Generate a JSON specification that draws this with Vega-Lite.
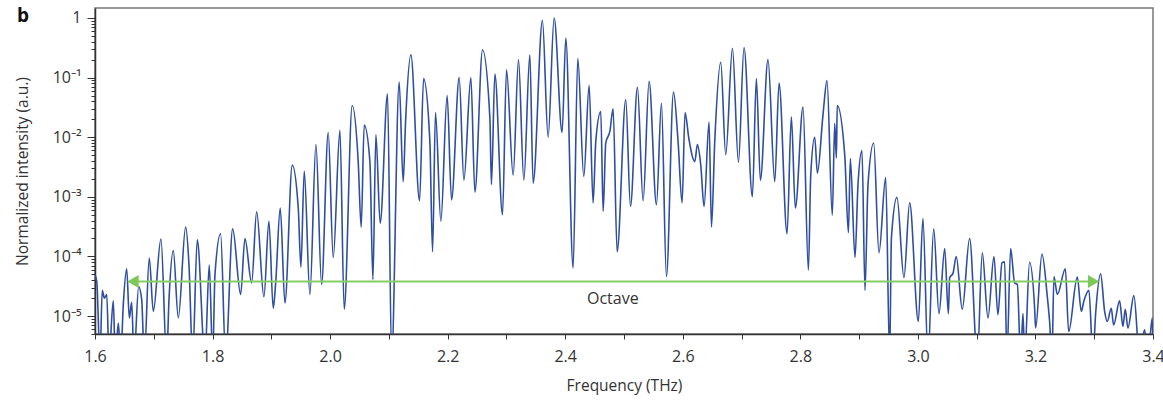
{
  "$schema": "https://vega.github.io/schema/vega-lite/v6.json",
  "width": 1058,
  "height": 326,
  "autosize": {"type": "none"},
  "padding": {"left": 95, "top": 8, "right": 10, "bottom": 66},
  "background": "white",
  "title": {"text": "b", "anchor": "start", "frame": "group", "orient": "top", "offset": 0, "dx": -78, "dy": 33, "baseline": "alphabetic", "fontSize": 19, "fontWeight": "bold", "font": "Open Sans", "color": "#111"},
  "config": {
    "font": "Open Sans",
    "view": {"stroke": "#777", "strokeWidth": 1.5},
    "axis": {"grid": false, "domainColor": "#333", "tickColor": "#333", "labelColor": "#333", "titleColor": "#333", "labelFont": "Open Sans", "titleFont": "Open Sans", "labelFontSize": 16, "titleFontSize": 15.5, "titleFontWeight": "normal", "domainWidth": 1.5}
  },
  "datasets": {
    "spectrum": [
      {"f":1.600,"I":4.9e-5},{"f":1.603,"I":3.8e-5},{"f":1.6085,"I":2e-6},{"f":1.6124,"I":2.7e-5},{"f":1.6158,"I":2.0e-5},{"f":1.620,"I":2.3e-5},{"f":1.6238,"I":2e-6},{"f":1.6311,"I":1.8e-5},{"f":1.6345,"I":2e-6},{"f":1.6397,"I":7.6e-6},{"f":1.6437,"I":2e-6},{"f":1.6482,"I":1.6e-5},{"f":1.6539,"I":6.2e-5},{"f":1.6584,"I":9.3e-6},{"f":1.6624,"I":1.7e-5},{"f":1.6663,"I":2e-6},{"f":1.6743,"I":3.1e-5},{"f":1.6794,"I":1.9e-5},{"f":1.6839,"I":2e-6},{"f":1.6923,"I":9.4e-5},{"f":1.6992,"I":1.2e-5},{"f":1.7122,"I":1.96e-4},{"f":1.7219,"I":2e-6},{"f":1.7259,"I":1.9e-5},{"f":1.7332,"I":1.25e-4},{"f":1.7417,"I":9.3e-6},{"f":1.7542,"I":3.1e-4},{"f":1.7599,"I":7.2e-5},{"f":1.7661,"I":2e-6},{"f":1.774,"I":1.9e-4},{"f":1.7871,"I":2e-6},{"f":1.7944,"I":7.2e-5},{"f":1.8002,"I":2e-6},{"f":1.8041,"I":4.9e-5},{"f":1.8137,"I":2.4e-4},{"f":1.8223,"I":2e-6},{"f":1.8342,"I":2.9e-4},{"f":1.8478,"I":2.3e-5},{"f":1.8551,"I":2.0e-4},{"f":1.8665,"I":3.6e-5},{"f":1.875,"I":5.6e-4},{"f":1.8874,"I":2.1e-5},{"f":1.8959,"I":3.9e-4},{"f":1.9032,"I":1.35e-5},{"f":1.9073,"I":3.5e-5},{"f":1.9152,"I":6.5e-4},{"f":1.9231,"I":1.66e-5},{"f":1.9356,"I":3.4e-3},{"f":1.9458,"I":6.5e-4},{"f":1.9503,"I":6.6e-5},{"f":1.956,"I":2.7e-3},{"f":1.9656,"I":2.3e-5},{"f":1.9759,"I":7.5e-3},{"f":1.9855,"I":3.4e-5},{"f":1.9968,"I":1.2e-2},{"f":2.0053,"I":9.6e-5},{"f":2.0167,"I":1.3e-2},{"f":2.024,"I":1.3e-5},{"f":2.0376,"I":3.4e-2},{"f":2.0478,"I":3.9e-3},{"f":2.0529,"I":3.1e-4},{"f":2.058,"I":1.6e-2},{"f":2.0677,"I":3.9e-3},{"f":2.0728,"I":4.1e-5},{"f":2.0779,"I":1.1e-2},{"f":2.0852,"I":3.6e-4},{"f":2.0977,"I":5.3e-2},{"f":2.1046,"I":2e-6},{"f":2.1175,"I":8.4e-2},{"f":2.1243,"I":1.8e-3},{"f":2.1284,"I":1.85e-2},{"f":2.1374,"I":0.24},{"f":2.1522,"I":8.6e-4},{"f":2.159,"I":9.6e-2},{"f":2.1697,"I":8.5e-3},{"f":2.1743,"I":1.2e-4},{"f":2.1793,"I":2.6e-2},{"f":2.1884,"I":3.9e-4},{"f":2.1991,"I":5.0e-2},{"f":2.2066,"I":8.9e-4},{"f":2.2196,"I":0.10},{"f":2.2276,"I":1.9e-3},{"f":2.2395,"I":0.10},{"f":2.2463,"I":1.2e-3},{"f":2.2593,"I":0.29},{"f":2.2718,"I":2.1e-2},{"f":2.2745,"I":1.6e-3},{"f":2.2803,"I":0.115},{"f":2.2933,"I":5.0e-4},{"f":2.3001,"I":0.135},{"f":2.3114,"I":2.3e-3},{"f":2.3205,"I":0.20},{"f":2.3296,"I":1.9e-3},{"f":2.3398,"I":0.24},{"f":2.3454,"I":1.7e-3},{"f":2.3612,"I":0.91},{"f":2.3709,"I":1.0e-2},{"f":2.3811,"I":1.0},{"f":2.3947,"I":1.2e-2},{"f":2.401,"I":0.46},{"f":2.4134,"I":6.4e-5},{"f":2.4214,"I":0.21},{"f":2.4316,"I":2.2e-3},{"f":2.4407,"I":7.4e-2},{"f":2.4474,"I":7.9e-4},{"f":2.452,"I":8.5e-3},{"f":2.4605,"I":2.7e-2},{"f":2.4645,"I":5.7e-4},{"f":2.469,"I":8.0e-3},{"f":2.4759,"I":1.25e-2},{"f":2.4815,"I":3.0e-2},{"f":2.4883,"I":1.2e-4},{"f":2.503,"I":4.3e-2},{"f":2.511,"I":6.9e-4},{"f":2.5229,"I":6.9e-2},{"f":2.5325,"I":8.6e-4},{"f":2.5427,"I":8.7e-2},{"f":2.5552,"I":7.4e-4},{"f":2.5637,"I":3.7e-2},{"f":2.5722,"I":4.6e-5},{"f":2.5842,"I":5.7e-2},{"f":2.592,"I":8.5e-3},{"f":2.5988,"I":7.9e-4},{"f":2.6039,"I":2.6e-2},{"f":2.6102,"I":9.7e-3},{"f":2.6204,"I":3.9e-3},{"f":2.6249,"I":7.5e-3},{"f":2.6306,"I":3.4e-3},{"f":2.6362,"I":6.9e-4},{"f":2.6447,"I":1.8e-2},{"f":2.6488,"I":3.1e-4},{"f":2.6544,"I":8.5e-3},{"f":2.6646,"I":0.18},{"f":2.6731,"I":5.1e-3},{"f":2.6845,"I":0.31},{"f":2.6947,"I":3.8e-3},{"f":2.7042,"I":0.32},{"f":2.7184,"I":1.0e-3},{"f":2.7252,"I":9.6e-2},{"f":2.732,"I":1.9e-3},{"f":2.745,"I":0.20},{"f":2.7565,"I":1.8e-3},{"f":2.7638,"I":8.1e-2},{"f":2.7774,"I":2.4e-4},{"f":2.7847,"I":2.2e-2},{"f":2.7915,"I":6.5e-4},{"f":2.8046,"I":3.2e-2},{"f":2.8137,"I":5.9e-5},{"f":2.8177,"I":2.3e-3},{"f":2.8245,"I":1.0e-2},{"f":2.829,"I":2.5e-3},{"f":2.8386,"I":2.4e-2},{"f":2.8454,"I":8.9e-2},{"f":2.8544,"I":4.9e-4},{"f":2.8585,"I":1.7e-2},{"f":2.8613,"I":4.5e-3},{"f":2.8628,"I":3.4e-2},{"f":2.8755,"I":5.1e-3},{"f":2.8818,"I":2.5e-4},{"f":2.8851,"I":4.4e-3},{"f":2.893,"I":9.6e-5},{"f":2.8981,"I":1.6e-3},{"f":2.9049,"I":6.0e-3},{"f":2.91,"I":2.7e-5},{"f":2.9151,"I":1.6e-3},{"f":2.9248,"I":8.0e-3},{"f":2.9338,"I":1.15e-4},{"f":2.9452,"I":2.1e-3},{"f":2.952,"I":2e-6},{"f":2.9549,"I":2.0e-4},{"f":2.9644,"I":9.8e-4},{"f":2.9763,"I":4.4e-5},{"f":2.986,"I":7.9e-4},{"f":3.0008,"I":8.1e-6},{"f":3.0086,"I":4.3e-4},{"f":3.0172,"I":2e-6},{"f":3.0269,"I":2.9e-4},{"f":3.0359,"I":1.1e-5},{"f":3.0456,"I":1.35e-4},{"f":3.0518,"I":1.1e-5},{"f":3.0541,"I":4.4e-5},{"f":3.0597,"I":5.2e-5},{"f":3.0653,"I":1.0e-4},{"f":3.0755,"I":1.3e-5},{"f":3.088,"I":2.0e-4},{"f":3.1011,"I":2e-6},{"f":3.1096,"I":1.15e-4},{"f":3.1192,"I":9.3e-6},{"f":3.1294,"I":1.0e-4},{"f":3.1362,"I":1.05e-5},{"f":3.143,"I":7.8e-5},{"f":3.1476,"I":8.1e-5},{"f":3.1515,"I":2e-6},{"f":3.1578,"I":1.35e-4},{"f":3.1646,"I":3.6e-5},{"f":3.1692,"I":3.4e-5},{"f":3.1748,"I":2e-6},{"f":3.1788,"I":1.1e-5},{"f":3.1816,"I":2e-6},{"f":3.190,"I":8.0e-5},{"f":3.1986,"I":1.35e-5},{"f":3.2003,"I":6.3e-6},{"f":3.2111,"I":1.1e-4},{"f":3.2202,"I":2.1e-5},{"f":3.2241,"I":8.1e-6},{"f":3.2281,"I":2e-6},{"f":3.2315,"I":4.6e-5},{"f":3.2372,"I":2.3e-5},{"f":3.2509,"I":6.2e-5},{"f":3.2565,"I":5.5e-6},{"f":3.2712,"I":4.5e-5},{"f":3.278,"I":1.2e-5},{"f":3.2825,"I":1.8e-5},{"f":3.291,"I":2.7e-5},{"f":3.2978,"I":2e-6},{"f":3.3024,"I":1.1e-5},{"f":3.3109,"I":5.1e-5},{"f":3.3177,"I":1.2e-5},{"f":3.3222,"I":8.1e-6},{"f":3.329,"I":1.35e-5},{"f":3.333,"I":7.1e-6},{"f":3.3432,"I":1.8e-5},{"f":3.3488,"I":6.7e-6},{"f":3.3528,"I":1.3e-5},{"f":3.3573,"I":6.3e-6},{"f":3.3675,"I":2.2e-5},{"f":3.3772,"I":2e-6},{"f":3.3857,"I":5.9e-6},{"f":3.3913,"I":2e-6},{"f":3.3988,"I":9.3e-6},{"f":3.4,"I":2e-6}
    ],
    "octave": [{"start": 1.664, "end": 3.300, "level": 3.8e-5}],
    "heads": [{"f": 1.6646, "I": 3.8e-5, "dir": "left"}, {"f": 3.299, "I": 3.8e-5, "dir": "right"}],
    "labels": [{"f": 2.481, "I": 1.9e-5, "text": "Octave"}]
  },
  "layer": [
    {
      "data": {"name": "spectrum"},
      "mark": {"type": "line", "color": "#2f4ea0", "strokeWidth": 1.6, "interpolate": "monotone", "clip": true},
      "encoding": {
        "x": {"field": "f", "type": "quantitative", "scale": {"domain": [1.6, 3.4], "nice": false, "zero": false},
          "axis": {"title": "Frequency (THz)", "values": [1.6,1.7,1.8,1.9,2.0,2.1,2.2,2.3,2.4,2.5,2.6,2.7,2.8,2.9,3.0,3.1,3.2,3.3,3.4], "labelExpr": "abs(round(datum.value*10) % 2) == 0 ? format(datum.value, '.1f') : ''", "tickSize": 5, "labelPadding": 9, "titlePadding": 14, "labelFlush": false}},
        "y": {"field": "I", "type": "quantitative", "scale": {"type": "log", "domain": [5e-6, 1.47], "nice": false},
          "axis": {"title": "Normalized intensity (a.u.)", "titlePadding": 22,
            "values": [5e-6,6e-6,7e-6,8e-6,9e-6,1e-5,2e-5,3e-5,4e-5,5e-5,6e-5,7e-5,8e-5,9e-5,1e-4,2e-4,3e-4,4e-4,5e-4,6e-4,7e-4,8e-4,9e-4,0.001,0.002,0.003,0.004,0.005,0.006,0.007,0.008,0.009,0.01,0.02,0.03,0.04,0.05,0.06,0.07,0.08,0.09,0.1,0.2,0.3,0.4,0.5,0.6,0.7,0.8,0.9,1],
            "labelExpr": "datum.value == 1 ? '1' : datum.value == 0.1 ? '10⁻¹' : datum.value == 0.01 ? '10⁻²' : datum.value == 0.001 ? '10⁻³' : datum.value == 0.0001 ? '10⁻⁴' : datum.value == 0.00001 ? '10⁻⁵' : ''",
            "tickSize": {"condition": {"test": "indexof([1,0.1,0.01,0.001,0.0001,0.00001], datum.value) >= 0", "value": 8}, "value": 4},
            "labelPadding": 6, "labelFlush": false}}
      }
    },
    {
      "data": {"name": "octave"},
      "mark": {"type": "rule", "color": "#86cd62", "strokeWidth": 2.2},
      "encoding": {"x": {"field": "start", "type": "quantitative"}, "x2": {"field": "end"}, "y": {"field": "level", "type": "quantitative"}}
    },
    {
      "data": {"name": "heads"},
      "mark": {"type": "point", "filled": true, "color": "#7cc955", "opacity": 1, "size": 170},
      "encoding": {"x": {"field": "f", "type": "quantitative"}, "y": {"field": "I", "type": "quantitative"},
        "shape": {"field": "dir", "type": "nominal", "scale": {"domain": ["left", "right"], "range": ["triangle-left", "triangle-right"]}, "legend": null}}
    },
    {
      "data": {"name": "labels"},
      "mark": {"type": "text", "fontSize": 16, "color": "#333", "font": "Open Sans"},
      "encoding": {"x": {"field": "f", "type": "quantitative"}, "y": {"field": "I", "type": "quantitative"}, "text": {"field": "text"}}
    }
  ]
}
